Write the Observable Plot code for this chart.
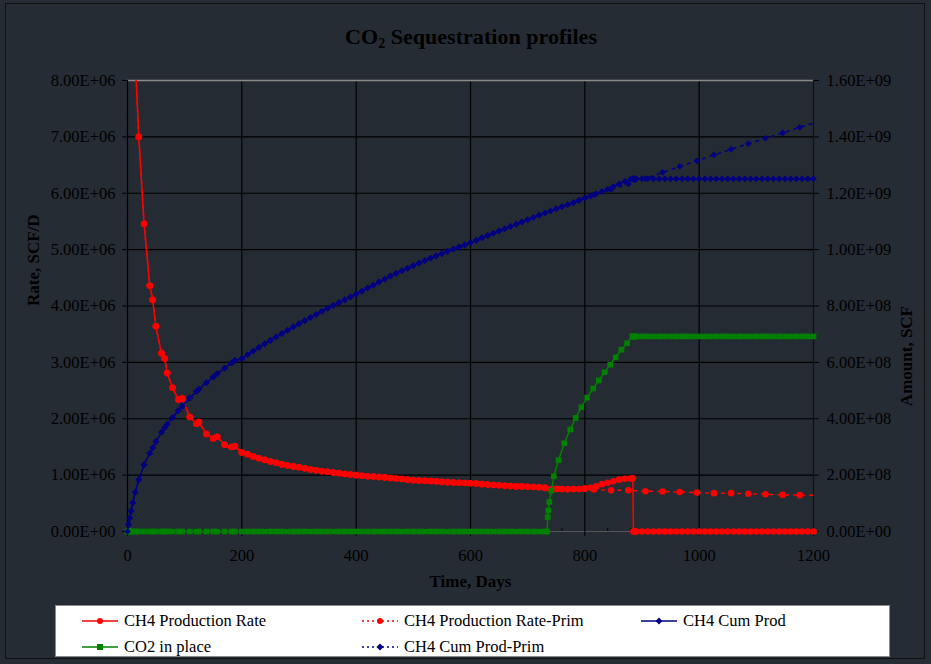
<!DOCTYPE html>
<html>
<head>
<meta charset="utf-8">
<script src="https://cdn.jsdelivr.net/npm/d3@7"></script>
<script src="https://cdn.jsdelivr.net/npm/@observablehq/plot@0.6"></script>
<style>
  html, body { margin: 0; padding: 0; background: #262c33; }
  #wrap { position: relative; width: 931px; height: 664px; background: #262c33; overflow: hidden; }
  #border { position: absolute; left: 5px; top: 3px; width: 920px; height: 656px; border: 1px solid #111; box-sizing: border-box; }
  #chart { position: absolute; left: 0; top: 0; }
  #legend { position: absolute; left: 55px; top: 605px; width: 835px; height: 52px; background: #fff; border: 1px solid #8a8a8a; box-sizing: border-box; font-family: "Liberation Serif", serif; font-size: 16.5px; color: #000; }
  .item { position: absolute; height: 20px; line-height: 20px; white-space: nowrap; }
  .item svg { position: absolute; left: 0; top: 5px; }
  .item span { position: absolute; }
</style>
</head>
<body>
<div id="wrap"><div id="border"></div><div id="chart"></div><div id="legend"></div></div>
<script>
// ---------- data (rates in 1e6 SCF/D, amounts in 1e8 SCF) ----------
const daysEarly = [0, 2, 4, 6.4, 9.3, 13.4, 19.8, 29, 39, 44, 49.6, 59.5, 65, 69.4, 78.7, 89, 96, 109, 120.7, 125, 138, 150, 157, 170, 182, 188];
const rateEarly = [15, 12.5, 11.5, 10.8, 9.8, 8.4, 7.0, 5.46, 4.36, 4.11, 3.64, 3.16, 3.07, 2.81, 2.55, 2.34, 2.36, 2.03, 1.91, 1.94, 1.73, 1.65, 1.68, 1.54, 1.50, 1.51];
const cumEarly  = [0, 0.25, 0.48, 0.73, 1.02, 1.39, 1.84, 2.37, 2.78, 2.97, 3.19, 3.52, 3.68, 3.80, 4.04, 4.29, 4.45, 4.74, 4.97, 5.05, 5.28, 5.48, 5.60, 5.80, 5.98, 6.07];
const co2Early  = [0, 0, 0, 0, 0, 0, 0, 0, 0, 0, 0, 0, 0, 0, 0, 0, 0, 0, 0, 0, 0, 0, 0, 0, 0, 0];

const daysMid = [200, 210, 220, 230, 240, 250, 260, 270, 280, 290,
  300, 310, 320, 330, 340, 350, 360, 370, 380, 390,
  400, 410, 420, 430, 440, 450, 460, 470, 480, 490,
  500, 510, 520, 530, 540, 550, 560, 570, 580, 590,
  600, 610, 620, 630, 640, 650, 660, 670, 680, 690,
  700, 710, 720, 730, 740, 750, 760, 770, 780, 790,
  800, 810, 820, 830, 840, 850, 860, 870, 880];
const rateMid = [1.40, 1.37, 1.33, 1.30, 1.27, 1.24, 1.22, 1.19, 1.17, 1.155,
  1.14, 1.12, 1.10, 1.085, 1.07, 1.06, 1.045, 1.035, 1.02, 1.01,
  1.00, 0.99, 0.98, 0.975, 0.965, 0.96, 0.95, 0.94, 0.93, 0.92,
  0.91, 0.905, 0.90, 0.895, 0.89, 0.88, 0.875, 0.87, 0.865, 0.86,
  0.855, 0.85, 0.84, 0.835, 0.825, 0.82, 0.81, 0.805, 0.80, 0.80,
  0.795, 0.79, 0.785, 0.775, 0.75, 0.755, 0.755, 0.75, 0.755, 0.755,
  0.76, 0.775, 0.80, 0.84, 0.865, 0.89, 0.92, 0.935, 0.94];
const cumMid = [6.13, 6.27, 6.40, 6.53, 6.66, 6.78, 6.90, 7.02, 7.14, 7.26,
  7.37, 7.48, 7.59, 7.70, 7.81, 7.92, 8.02, 8.12, 8.22, 8.32,
  8.42, 8.53, 8.64, 8.74, 8.85, 8.95, 9.06, 9.16, 9.25, 9.34,
  9.43, 9.52, 9.61, 9.70, 9.78, 9.86, 9.94, 10.02, 10.09, 10.17,
  10.24, 10.33, 10.42, 10.50, 10.58, 10.66, 10.74, 10.82, 10.90, 10.98,
  11.06, 11.14, 11.22, 11.30, 11.37, 11.45, 11.52, 11.60, 11.67, 11.75,
  11.83, 11.90, 11.98, 12.06, 12.15, 12.24, 12.33, 12.42, 12.50];
const co2MidDays = [200, 210, 220, 230, 240, 250, 260, 270, 280, 290,
  300, 310, 320, 330, 340, 350, 360, 370, 380, 390,
  400, 410, 420, 430, 440, 450, 460, 470, 480, 490,
  500, 510, 520, 530, 540, 550, 560, 570, 580, 590,
  600, 610, 620, 630, 640, 650, 660, 670, 680, 690,
  700, 710, 720, 730,
  734, 735, 736, 738, 741.6, 745.7, 754, 764, 774.5, 784, 794, 804, 814.6, 824.5, 834.5, 844.4, 854, 864, 874, 883];
const co2Mid = [0, 0, 0, 0, 0, 0, 0, 0, 0, 0,
  0, 0, 0, 0, 0, 0, 0, 0, 0, 0,
  0, 0, 0, 0, 0, 0, 0, 0, 0, 0,
  0, 0, 0, 0, 0, 0, 0, 0, 0, 0,
  0, 0, 0, 0, 0, 0, 0, 0, 0, 0,
  0, 0, 0, 0,
  0, 0.51, 0.75, 1.05, 1.45, 1.96, 2.53, 3.13, 3.62, 4.03, 4.41, 4.75, 5.07, 5.36, 5.65, 5.92, 6.18, 6.45, 6.68, 6.92];

const daysTail = [884, 885, 886, 887, 888, 890, 900, 910, 920, 930, 940, 950, 960, 970, 980, 990,
  1000, 1010, 1020, 1030, 1040, 1050, 1060, 1070, 1080, 1090, 1100, 1110, 1120, 1130, 1140, 1150,
  1160, 1170, 1180, 1190, 1200];
const rateTail = [0.945, 0, 0, 0, 0, 0, 0, 0, 0, 0, 0, 0, 0, 0, 0, 0,
  0, 0, 0, 0, 0, 0, 0, 0, 0, 0, 0, 0, 0, 0, 0, 0,
  0, 0, 0, 0, 0];
const cumTail = [12.51, 12.51, 12.51, 12.51, 12.51, 12.51, 12.51, 12.51, 12.51, 12.51, 12.51, 12.51, 12.51, 12.51, 12.51, 12.51,
  12.51, 12.51, 12.51, 12.51, 12.51, 12.51, 12.51, 12.51, 12.51, 12.51, 12.51, 12.51, 12.51, 12.51, 12.51, 12.51,
  12.51, 12.51, 12.51, 12.51, 12.51];
const co2Tail = [6.92, 6.92, 6.92, 6.92, 6.92, 6.92, 6.92, 6.92, 6.92, 6.92, 6.92, 6.92, 6.92, 6.92, 6.92, 6.92,
  6.92, 6.92, 6.92, 6.92, 6.92, 6.92, 6.92, 6.92, 6.92, 6.92, 6.92, 6.92, 6.92, 6.92, 6.92, 6.92,
  6.92, 6.92, 6.92, 6.92, 6.92];

// primary-only (no injection) continuation
const primDays = [816, 846, 876, 906, 936, 966, 996, 1026, 1056, 1086, 1116, 1146, 1176, 1206];
const primRate = [0.745, 0.73, 0.73, 0.715, 0.71, 0.70, 0.69, 0.68, 0.68, 0.67, 0.66, 0.65, 0.645, 0.64];
const primCum  = [11.95, 12.14, 12.33, 12.52, 12.74, 12.95, 13.15, 13.36, 13.56, 13.76, 13.95, 14.14, 14.34, 14.52];
const primSplitDay = 800;

const xTicks = [0, 200, 400, 600, 800, 1000, 1200];
const xMinor = [40, 80, 120, 160, 240, 280, 320, 360, 440, 480, 520, 560, 640, 680, 720, 760, 840, 880, 920, 960, 1040, 1080, 1120, 1160];
const yTicks = [0, 1e6, 2e6, 3e6, 4e6, 5e6, 6e6, 7e6, 8e6];
const rightPerLeft = 200; // 1.6E+09 SCF on right axis = 8.0E+06 SCF/D on left

const seriesNames = ["CH4 Production Rate", "CH4 Production Rate-Prim", "CH4 Cum Prod", "CO2 in place", "CH4 Cum Prod-Prim"];
const colors = {red: "#ff0000", blue: "#000080", green: "#008000"};

// ---------- build tables ----------
const days = [...daysEarly, ...daysMid, ...daysTail];
const rateVals = [...rateEarly, ...rateMid, ...rateTail];
const cumVals = [...cumEarly, ...cumMid, ...cumTail];
const rateData = days.map((d, i) => ({day: d, y: rateVals[i] * 1e6}));
const cumData = days.map((d, i) => ({day: d, y: cumVals[i] * 1e8 / rightPerLeft}));
const co2Days = [...daysEarly, ...co2MidDays, ...daysTail];
const co2Vals = [...co2Early, ...co2Mid, ...co2Tail];
const co2Data = co2Days.map((d, i) => ({day: d, y: co2Vals[i] * 1e8 / rightPerLeft}));
const primRateData = rateData.filter(d => d.day <= primSplitDay).concat(primDays.map((d, i) => ({day: d, y: primRate[i] * 1e6})));
const primCumData = cumData.filter(d => d.day <= primSplitDay).concat(primDays.map((d, i) => ({day: d, y: primCum[i] * 1e8 / rightPerLeft})));
const inView = d => d.day <= 1200 && d.y <= 8e6;

function fmtE(v) {
  if (Math.abs(v) < 1e-9) return "0.00E+00";
  const e = Math.floor(Math.log10(v) + 1e-9);
  const m = v / Math.pow(10, e);
  return m.toFixed(2) + "E+" + String(e).padStart(2, "0");
}

const diamond = d3.symbolDiamond2 || "diamond";

const chart = Plot.plot({
  width: 931,
  height: 600,
  marginTop: 80,
  marginBottom: 69,
  marginLeft: 127,
  marginRight: 118,
  style: {background: "transparent", fontFamily: "Liberation Serif, serif", fontSize: "16px", color: "#000", overflow: "visible"},
  x: {domain: [0, 1200], type: "linear"},
  y: {domain: [0, 8e6], type: "linear"},
  marks: [
    Plot.frame({fill: "#252b32", stroke: null}),
    Plot.ruleY(yTicks.filter(v => v > 0 && v < 8e6), {stroke: "#000", strokeWidth: 1.2}),
    Plot.ruleX(xTicks.filter(v => v > 0 && v < 1200), {stroke: "#000", strokeWidth: 1.2}),
    Plot.ruleY([8e6], {stroke: "#8a8a8a", strokeWidth: 1.5}),
    Plot.ruleY([0], {stroke: "#555", strokeWidth: 1.2}),
    Plot.ruleX(xMinor, {y1: 0, y2: 5e4, stroke: "#000"}),
    Plot.ruleX([0], {stroke: "#000", strokeWidth: 1.2}),
    Plot.ruleX([1200], {stroke: "#111", strokeWidth: 1.2}),
    Plot.axisY(yTicks, {anchor: "left", tickFormat: fmtE, tickSize: 5, tickPadding: 7, label: null, fontSize: 16.5}),
    Plot.axisY(yTicks, {anchor: "right", tickFormat: d => fmtE(d * rightPerLeft), tickSize: 5, tickPadding: 8, label: null, fontSize: 16.5}),
    Plot.axisX(xTicks, {tickSize: 5, tickPadding: 13, label: null, fontSize: 16.5, tickFormat: d => String(d)}),
    // CH4 Production Rate
    Plot.line(rateData, {x: "day", y: "y", stroke: colors.red, strokeWidth: 1.5, clip: true}),
    Plot.dot(rateData.filter(inView), {x: "day", y: "y", fill: colors.red, r: 3.3, symbol: "circle"}),
    // CH4 Production Rate-Prim
    Plot.line(primRateData, {x: "day", y: "y", stroke: colors.red, strokeWidth: 1.5, strokeDasharray: "3,5", clip: true}),
    Plot.dot(primRateData.filter(inView), {x: "day", y: "y", fill: colors.red, r: 3.3, symbol: "circle"}),
    // CH4 Cum Prod
    Plot.line(cumData, {x: "day", y: "y", stroke: colors.blue, strokeWidth: 1.5}),
    Plot.dot(cumData.filter(inView), {x: "day", y: "y", fill: colors.blue, r: 3, symbol: diamond}),
    // CO2 in place
    Plot.line(co2Data, {x: "day", y: "y", stroke: colors.green, strokeWidth: 1.5}),
    Plot.dot(co2Data.filter(inView), {x: "day", y: "y", fill: colors.green, r: 3.2, symbol: "square"}),
    // CH4 Cum Prod-Prim
    Plot.line(primCumData, {x: "day", y: "y", stroke: colors.blue, strokeWidth: 1.5, strokeDasharray: "3,5", clip: true}),
    Plot.dot(primCumData.filter(inView), {x: "day", y: "y", fill: colors.blue, r: 3, symbol: diamond}),
    // axis titles
    Plot.text(["Rate, SCF/D"], {frameAnchor: "left", dx: -94, rotate: -90, fontWeight: "bold", fontSize: 17, fill: "#000"}),
    Plot.text(["Amount, SCF"], {frameAnchor: "right", dx: 93, rotate: -90, fontWeight: "bold", fontSize: 17, fill: "#000"}),
    Plot.text(["Time, Days"], {frameAnchor: "bottom", dy: 55, fontWeight: "bold", fontSize: 17, fill: "#000"})
  ]
});

// Title with real subscript
const svg = d3.select(chart.tagName.toLowerCase() === "svg" ? chart : chart.querySelector("svg"));
const title = svg.append("text")
  .attr("x", 471).attr("y", 44)
  .attr("text-anchor", "middle")
  .attr("font-family", "Liberation Serif, serif")
  .attr("font-weight", "bold")
  .attr("font-size", 22)
  .attr("textLength", 252)
  .attr("lengthAdjust", "spacingAndGlyphs")
  .attr("fill", "#000");
title.append("tspan").text("CO");
title.append("tspan").attr("font-size", 14).attr("dy", 4).text("2");
title.append("tspan").attr("dy", -4).text(" Sequestration profiles");

document.getElementById("chart").appendChild(chart);

// ---------- legend ----------
const legendItems = [
  {name: seriesNames[0], color: colors.red, dash: null, sym: "circle", left: 26, top: 5},
  {name: seriesNames[1], color: colors.red, dash: "2,3", sym: "circle", left: 306, top: 5},
  {name: seriesNames[2], color: colors.blue, dash: null, sym: "diamond", left: 585, top: 5},
  {name: seriesNames[3], color: colors.green, dash: null, sym: "square", left: 26, top: 31},
  {name: seriesNames[4], color: colors.blue, dash: "2,3", sym: "diamond", left: 306, top: 31}
];
const legend = document.getElementById("legend");
for (const it of legendItems) {
  const div = document.createElement("div");
  div.className = "item";
  div.style.left = it.left + "px";
  div.style.top = it.top + "px";
  let marker;
  if (it.sym === "circle") marker = `<circle cx="18" cy="5" r="3" fill="${it.color}"/>`;
  else if (it.sym === "square") marker = `<rect x="15" y="2" width="6" height="6" fill="${it.color}"/>`;
  else marker = `<path d="M18,1.5L21.5,5L18,8.5L14.5,5Z" fill="${it.color}"/>`;
  div.innerHTML = `<svg width="36" height="10"><line x1="0" y1="5" x2="36" y2="5" stroke="${it.color}" stroke-width="1.5" ${it.dash ? `stroke-dasharray="${it.dash}"` : ""}/>${marker}</svg><span style="left:42px">${it.name}</span>`;
  legend.appendChild(div);
}
</script>
</body>
</html>
